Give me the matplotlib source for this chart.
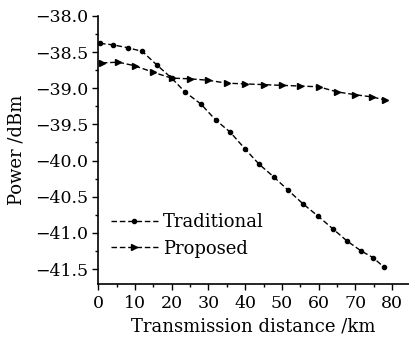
import numpy as np
import matplotlib
matplotlib.use("Agg")
import matplotlib.pyplot as plt
from matplotlib.ticker import MultipleLocator

# traditional scheme, markers roughly every 4 km
trad_km = [0.5, 4, 8, 12, 16, 20, 23.6, 28, 32, 36, 40, 43.8, 47.9, 51.7, 55.8, 59.9, 63.8, 67.7, 71.6, 74.8, 77.7]
trad_dbm = [-38.38, -38.40, -38.44, -38.49, -38.68, -38.86, -39.05, -39.22, -39.44, -39.61, -39.84, -40.05,
            -40.23, -40.41, -40.60, -40.77, -40.94, -41.11, -41.25, -41.34, -41.47]

# proposed scheme, markers roughly every 5 km
prop_km = [1, 5.5, 10, 15, 20, 25, 30, 35, 40, 45, 50, 55, 60, 65, 70, 74.5, 78]
prop_dbm = [-38.65, -38.64, -38.69, -38.78, -38.86, -38.87, -38.89, -38.93, -38.94, -38.95, -38.96,
            -38.97, -38.98, -39.05, -39.09, -39.12, -39.16]

plt.rcParams['font.family'] = ['DejaVu Serif']

fig = plt.figure(figsize=(4.09, 3.38), dpi=100)
ax = fig.add_axes([0.24, 0.161, 0.76, 0.792])

ax.plot(trad_km, trad_dbm, color='black', linestyle=(0, (4, 2)), linewidth=1.0,
        marker='o', markersize=3, label='Traditional')
ax.plot(prop_km, prop_dbm, color='black', linestyle=(0, (4, 2)), linewidth=1.0,
        marker='>', markersize=5, label='Proposed')

ax.set_xlim(0, 84.6)
ax.set_ylim(-41.7, -38.0)
ax.xaxis.set_major_locator(MultipleLocator(10))
ax.xaxis.set_minor_locator(MultipleLocator(5))
ax.yaxis.set_major_locator(MultipleLocator(0.5))
ax.yaxis.set_minor_locator(MultipleLocator(0.25))
ax.yaxis.set_major_formatter(matplotlib.ticker.FuncFormatter(lambda v, p: '\u2212%.1f' % abs(v)))

ax.spines['top'].set_visible(False)
ax.spines['right'].set_visible(False)
ax.spines['left'].set_linewidth(1.2)
ax.spines['bottom'].set_linewidth(1.2)
ax.tick_params(which='major', length=4, width=1, labelsize=12.5)
ax.tick_params(axis='x', which='major', pad=4)
ax.tick_params(axis='y', which='major', pad=3)
ax.tick_params(which='minor', length=2, width=1)

ax.set_xlabel('Transmission distance /km', fontsize=13)
ax.set_ylabel('Power /dBm', fontsize=13)
ax.xaxis.set_label_coords(0.5, -0.125)
ax.yaxis.set_label_coords(-0.235, 0.5)

ax.legend(loc='lower left', bbox_to_anchor=(0.0, 0.05), frameon=False, fontsize=13,
          handlelength=2.6, handletextpad=0.3, labelspacing=0.45, borderaxespad=0.3)

fig.savefig('out.png', dpi=100)
